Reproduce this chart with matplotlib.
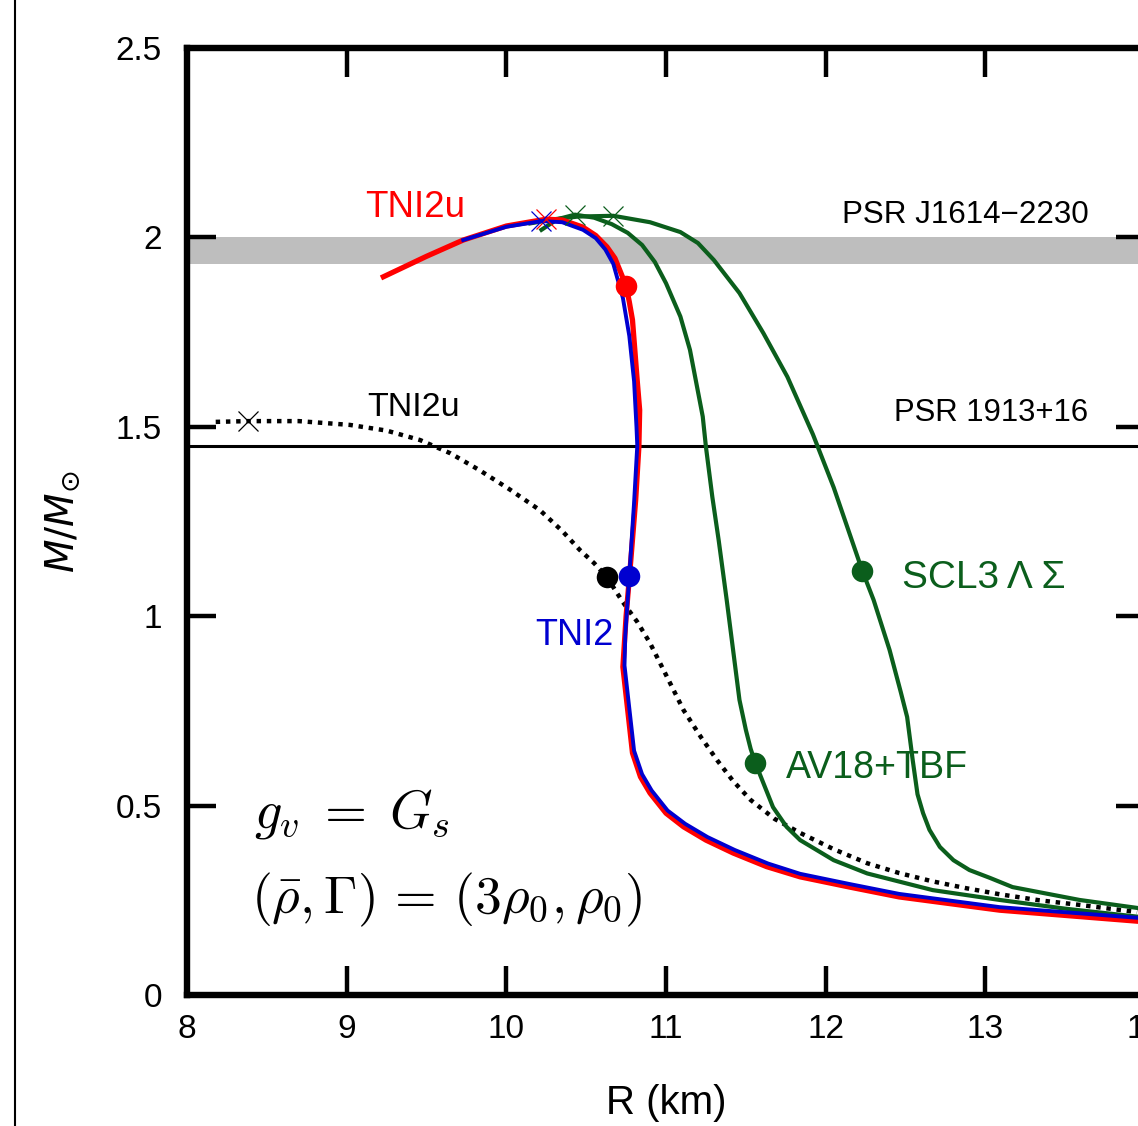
import matplotlib
matplotlib.use("Agg")
import matplotlib.pyplot as plt
from matplotlib.lines import Line2D

# ---- data (R in km, M in solar masses) ----
red_R = [9.23, 9.5, 9.73, 10.0, 10.15, 10.25, 10.35, 10.48, 10.56, 10.63, 10.68, 10.71, 10.75, 10.77, 10.79, 10.82, 10.835,
         10.83, 10.81, 10.78, 10.75, 10.73, 10.79, 10.84, 10.90, 11.00, 11.11, 11.25, 11.42, 11.63, 11.84, 12.15, 12.46, 13.09, 13.95]
red_M = [1.896, 1.950, 1.993, 2.030, 2.041, 2.048, 2.046, 2.027, 2.005, 1.975, 1.945, 1.914, 1.872, 1.83, 1.782, 1.62, 1.544,
         1.447, 1.307, 1.15, 1.0, 0.866, 0.639, 0.576, 0.533, 0.480, 0.444, 0.409, 0.375, 0.339, 0.312, 0.285, 0.259, 0.224, 0.195]

blue_R = [9.73, 10.0, 10.22, 10.35, 10.48, 10.56, 10.62, 10.67, 10.73, 10.77, 10.80, 10.815, 10.82, 10.80, 10.77, 10.745,
          10.74, 10.80, 10.85, 10.91, 11.01, 11.12, 11.26, 11.43, 11.64, 11.84, 12.15, 12.46, 13.09, 13.95]
blue_M = [1.993, 2.028, 2.043, 2.040, 2.020, 1.998, 1.968, 1.93, 1.84, 1.74, 1.62, 1.50, 1.45, 1.30, 1.106, 0.95,
          0.87, 0.645, 0.583, 0.540, 0.487, 0.452, 0.417, 0.383, 0.347, 0.320, 0.293, 0.267, 0.232, 0.204]

tni2u_R = [8.18, 8.38, 8.7, 9.02, 9.25, 9.46, 9.65, 9.83, 10.02, 10.21, 10.35, 10.46, 10.55, 10.63, 10.73, 10.82, 10.90,
           11.0, 11.11, 11.22, 11.32, 11.42, 11.53, 11.68, 11.84, 12.05, 12.26, 12.46, 12.67, 12.88, 13.09, 13.34, 13.59, 13.95]
tni2u_M = [1.513, 1.515, 1.515, 1.505, 1.49, 1.465, 1.43, 1.386, 1.335, 1.280, 1.225, 1.175, 1.14, 1.103, 1.037, 0.985, 0.929,
           0.845, 0.752, 0.680, 0.620, 0.565, 0.515, 0.465, 0.428, 0.385, 0.348, 0.322, 0.300, 0.282, 0.266, 0.250, 0.238, 0.219]

av18_R = [10.22, 10.32, 10.43, 10.55, 10.66, 10.76, 10.85, 10.93, 11.0, 11.09, 11.15, 11.19, 11.23, 11.25, 11.29, 11.33,
          11.38, 11.42, 11.46, 11.50, 11.53, 11.56, 11.67, 11.755, 11.84, 12.05, 12.26, 12.67, 13.09, 13.5, 13.95]
av18_M = [2.020, 2.048, 2.060, 2.052, 2.035, 2.012, 1.980, 1.935, 1.879, 1.791, 1.703, 1.615, 1.527, 1.447, 1.315, 1.20,
          1.043, 0.911, 0.779, 0.700, 0.650, 0.612, 0.496, 0.444, 0.409, 0.356, 0.321, 0.277, 0.251, 0.228, 0.207]

scl3_R = [10.15, 10.30, 10.45, 10.67, 10.90, 11.09, 11.20, 11.30, 11.46, 11.61, 11.76, 11.92, 12.05, 12.23, 12.30, 12.40,
          12.47, 12.51, 12.545, 12.575, 12.61, 12.65, 12.715, 12.80, 12.90, 13.03, 13.17, 13.59, 13.95]
scl3_M = [2.037, 2.048, 2.055, 2.057, 2.040, 2.014, 1.985, 1.940, 1.853, 1.747, 1.632, 1.48, 1.34, 1.119, 1.043, 0.911,
          0.80, 0.734, 0.62, 0.53, 0.480, 0.436, 0.391, 0.356, 0.330, 0.309, 0.285, 0.251, 0.230]

# maxima (crosses) and marked points (dots)
max_pts = {"red": (10.25, 2.048), "blue": (10.22, 2.043), "av18": (10.43, 2.060),
           "scl3": (10.67, 2.057), "tni2u": (8.38, 1.515)}
dot_pts = {"red": (10.75, 1.872), "blue": (10.77, 1.106), "tni2u": (10.63, 1.103),
           "av18": (11.56, 0.612), "scl3": (12.23, 1.119)}

psr_band = (1.93, 2.0)
psr_line = 1.45
x_ticks = [8, 9, 10, 11, 12, 13, 14]
y_ticks = [0, 0.5, 1, 1.5, 2, 2.5]
y_ticklabels = ["0", "0.5", "1", "1.5", "2", "2.5"]

RED = "#ff0000"
BLUE = "#0000d0"
GREEN = "#0b5e1c"

plt.rcParams['font.family'] = ['Liberation Sans', 'DejaVu Sans']

fig = plt.figure(figsize=(11.38, 11.26), dpi=100)
ax = fig.add_axes([0.1643, 0.1163, 0.8419, 0.8411])
ax.set_xlim(8, 14)
ax.set_ylim(0, 2.5)

ax.axhspan(psr_band[0], psr_band[1], color="#bebebe", lw=0, zorder=1)
ax.axhline(psr_line, color="black", lw=2.2, zorder=2)

ax.plot(tni2u_R, tni2u_M, color="black", lw=3.2, ls=(0, (1.0, 1.3)), zorder=3)
ax.plot(scl3_R, scl3_M, color=GREEN, lw=3.0, zorder=4, solid_joinstyle="round")
ax.plot(av18_R, av18_M, color=GREEN, lw=3.0, zorder=4, solid_joinstyle="round")
ax.plot(red_R, red_M, color=RED, lw=3.8, zorder=5, solid_joinstyle="round")
ax.plot(blue_R, blue_M, color=BLUE, lw=2.8, zorder=6, solid_joinstyle="round")

cross_col = {"red": RED, "blue": BLUE, "av18": GREEN, "scl3": GREEN, "tni2u": "black"}
for k, (x, y) in max_pts.items():
    ax.plot([x], [y], marker="x", ms=15, mew=0.9, color=cross_col[k], zorder=7)
for k, (x, y) in dot_pts.items():
    ax.plot([x], [y], marker="o", ms=15.5, color=cross_col[k], mec="none", zorder=8)

# labels on the curves
ax.text(9.115, 2.08, "TNI2u", color=RED, fontsize=26.5, va="center", ha="left")
ax.text(9.127, 1.55, "TNI2u", color="black", fontsize=24.5, va="center", ha="left")
ax.text(10.18, 0.95, "TNI2", color=BLUE, fontsize=26, va="center", ha="left")
ax.text(12.48, 1.10, "SCL3\u2009\u039b \u03a3", color=GREEN, fontsize=28, va="center", ha="left")
ax.text(11.75, 0.60, "AV18+TBF", color=GREEN, fontsize=27, va="center", ha="left")
ax.text(12.10, 2.058, "PSR J1614\u22122230", color="black", fontsize=22.6, va="center", ha="left")
ax.text(12.43, 1.537, "PSR 1913+16", color="black", fontsize=22.4, va="center", ha="left")

ax.text(8.42, 0.441, r"$g_v\;=\;G_s$", fontsize=39, math_fontfamily="cm", va="baseline", ha="left")
ax.text(8.40, 0.216, r"$(\bar{\rho},\Gamma)\,=\,(3\rho_0,\rho_0)$", fontsize=38.5,
        math_fontfamily="cm", va="baseline", ha="left")

# axes styling
for s in ax.spines.values():
    s.set_linewidth(4.6)
ax.set_xticks(x_ticks)
ax.set_xticklabels([str(t) for t in x_ticks], fontsize=24)
ax.set_yticks(y_ticks)
ax.set_yticklabels(y_ticklabels, fontsize=24)
ax.tick_params(direction="in", length=21, width=3.2, top=True, right=True)
ax.tick_params(axis="x", pad=14)
ax.tick_params(axis="y", pad=18)

ax.set_xlabel("R (km)", fontsize=29, labelpad=28)
ax.set_ylabel(r"$\mathit{M/M}_{\odot}$", fontsize=28, labelpad=24, math_fontfamily="dejavusans")

fig.add_artist(Line2D([15 / 1138, 15 / 1138], [0, 1], color="black", lw=1.5, transform=fig.transFigure))

fig.savefig("out.png", dpi=100)
